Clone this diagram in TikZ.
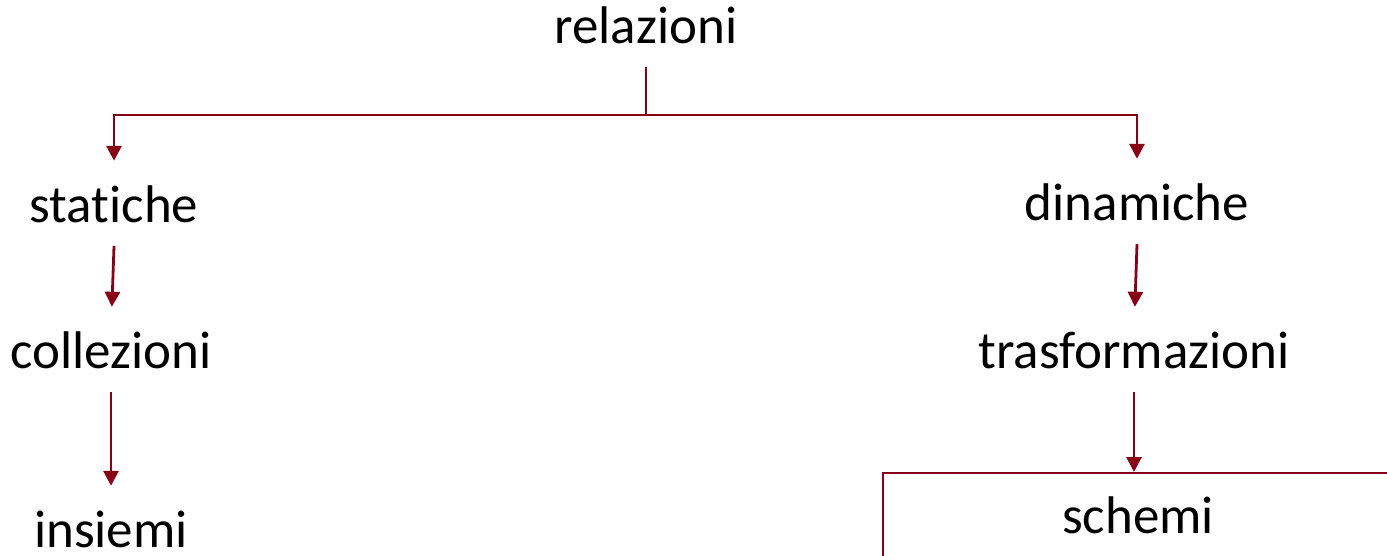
\documentclass[tikz,border=0pt]{standalone}
\usepackage{fontspec}
\setmainfont{Carlito}[Ligatures=NoCommon]
\usetikzlibrary{arrows.meta}
\definecolor{linered}{RGB}{136,0,21}
\begin{document}
\begin{tikzpicture}[x=1pt,y=-1pt,
  lbl/.style={anchor=base,inner sep=0pt,text height=35pt,text depth=24pt,
    font=\fontsize{53}{57}\selectfont},
  conn/.style={draw=linered,line width=2.8pt,
    -{Triangle[width=15pt,length=15pt]}},
  totext/.style={shorten >=26pt}]
\useasboundingbox (0,0) rectangle (1387,555);
\clip (0,0) rectangle (1387,555);
\node[lbl] (rel) at (646,43) {relazioni};
\node[lbl] (stat) at (114,222) {statiche};
\node[lbl] (din) at (1137,220) {dinamiche};
\node[lbl] (coll) at (111,368) {collezioni};
\node[lbl] (tras) at (1134,368) {trasformazioni};
\node[lbl] (ins) at (111,547) {insiemi};
\node[lbl,draw=linered,line width=2pt,minimum width=510pt,inner ysep=25pt] (sch) at (1138,533) {schemi};
\coordinate (j) at (646,115);
\draw[conn,totext] (rel.south) -- (j) -| (stat.north);
\draw[conn,totext] (j) -| (din.north);
\draw[conn,totext] (stat.south) -- (coll.north);
\draw[conn,totext] (coll.south) -- (ins.north);
\draw[conn,totext] (din.south) -- (tras.north);
\draw[conn] (tras.south) -- (tras.south |- sch.north);
\end{tikzpicture}
\end{document}
